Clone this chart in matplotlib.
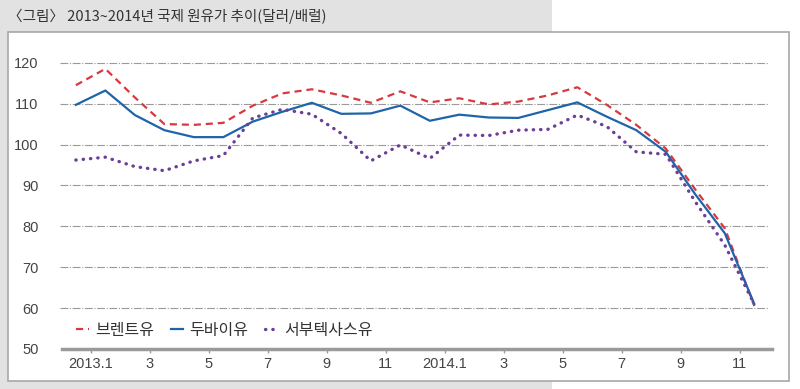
import matplotlib.pyplot as plt
import matplotlib.patches as mpatches

plt.rcParams['font.family'] = ['Noto Sans CJK KR', 'DejaVu Sans']

# months since 2013.1 (one point per month)
months = list(range(24))
brent = [114.5, 118.5, 111.5, 105.0, 104.8, 105.3, 109.5, 112.5, 113.5, 112.0, 110.2, 113.0,
         110.3, 111.3, 109.8, 110.5, 112.0, 114.0, 109.7, 104.8, 99.0, 89.0, 79.5, 60.5]
dubai = [109.7, 113.2, 107.2, 103.5, 101.8, 101.8, 105.6, 108.0, 110.2, 107.5, 107.6, 109.5,
         105.8, 107.3, 106.6, 106.5, 108.4, 110.3, 106.8, 103.5, 98.2, 87.8, 78.3, 61.0]
wti = [96.2, 96.9, 94.6, 93.6, 96.0, 97.3, 106.5, 108.6, 107.4, 102.7, 96.0, 99.9,
       96.6, 102.3, 102.2, 103.5, 103.7, 107.2, 104.4, 98.2, 97.6, 86.0, 75.4, 60.9]

tick_pos = [0.5, 2.5, 4.5, 6.5, 8.5, 10.5, 12.5, 14.5, 16.5, 18.5, 20.5, 22.5]
tick_labels = ['2013.1', '3', '5', '7', '9', '11', '2014.1', '3', '5', '7', '9', '11']
y_ticks = [50, 60, 70, 80, 90, 100, 110, 120]
names = ['브렌트유', '두바이유', '서부텍사스유']

W, H = 800, 389
fig = plt.figure(figsize=(W / 100, H / 100), dpi=100)
fig.patch.set_facecolor('white')

# grey tab behind the white panel
fig.patches.append(mpatches.Rectangle((0, 0), 552 / W, 1, transform=fig.transFigure,
                                      facecolor='#e2e2e2', edgecolor='none', zorder=0))
fig.patches.append(mpatches.Rectangle((8 / W, 1 - 381 / H), 781 / W, 349 / H,
                                      transform=fig.transFigure, facecolor='white',
                                      edgecolor='#a8a8a8', linewidth=1.2, zorder=1))

fig.text(8 / W, 1 - 16 / H, '〈그림〉 2013~2014년 국제 원유가 추이(달러/배럴)',
         fontsize=10.5, color='#333333', va='center', ha='left')

ax = fig.add_axes([62 / W, 1 - 349 / H, 710 / W, (349 - 62.7) / H])
ax.set_facecolor('none')
ax.set_zorder(2)

ax.plot(months, brent, color='#d8393f', lw=1.6, ls=(0, (3.2, 2.2)), label=names[0])
ax.plot(months, dubai, color='#1f64a8', lw=1.6, ls='-', label=names[1])
ax.plot(months, wti, color='#6b3f98', lw=2.4, ls=(0, (0.1, 2.1)),
        dash_capstyle='round', solid_capstyle='round', label=names[2])

ax.set_xlim(-0.47, 23.6)
ax.set_ylim(50, 120)
ax.set_yticks(y_ticks)
ax.set_xticks(tick_pos)
ax.set_xticklabels(tick_labels)

for v in y_ticks[1:]:
    ax.axhline(v, xmin=-0.003, xmax=0.994, color='#9a9a9a', lw=0.8,
               ls=(0, (7, 1.5, 1, 1.5)), zorder=0, clip_on=False)

for s in ['top', 'right', 'left']:
    ax.spines[s].set_visible(False)
ax.spines['bottom'].set_color('#9a9a9a')
ax.spines['bottom'].set_linewidth(2.5)

tick_font = ['Liberation Sans Narrow', 'Liberation Sans', 'DejaVu Sans']
ax.tick_params(axis='y', length=0, pad=17, labelsize=10.5, labelcolor='#444444')
ax.tick_params(axis='x', length=3, width=1, color='#9a9a9a', pad=3,
               labelsize=10.5, labelcolor='#444444')
for lab in ax.get_xticklabels() + ax.get_yticklabels():
    lab.set_fontfamily(tick_font)

ax.legend(loc='lower left', bbox_to_anchor=(0.0, -0.015), ncol=3, frameon=False,
          handlelength=0.8, handletextpad=0.4, columnspacing=1.0,
          prop={'size': 11.5}, labelcolor='#333333')

fig.savefig('out.png', dpi=100, facecolor=fig.get_facecolor())
